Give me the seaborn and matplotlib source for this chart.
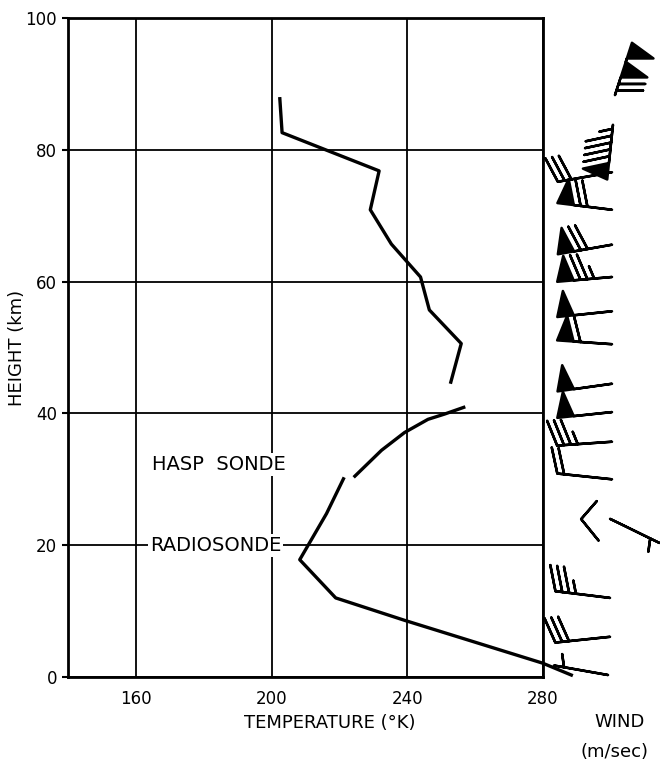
import numpy as np
import pandas as pd
import matplotlib
matplotlib.use("Agg")
import matplotlib.pyplot as plt
import seaborn as sns

# ---------------- Temperature profiles (deg K vs km) ----------------
upper_height = [88.0, 82.6, 76.8, 70.9, 65.7, 60.7, 55.7, 50.6, 44.5]
upper_temp = [202.4, 203.1, 231.7, 229.1, 235.3, 243.9, 246.5, 255.9, 252.7]

hasp_height = [41.0, 39.9, 39.1, 37.1, 34.4, 30.3]
hasp_temp = [257.1, 251.0, 246.1, 239.2, 232.4, 224.2]

radio_height = [30.3, 24.8, 17.8, 12.0, 8.6, 2.1, 0.2]
radio_temp = [221.4, 216.2, 208.3, 218.9, 239.2, 279.9, 288.8]

# ---------------- Winds ----------------
# direction = where the wind comes from (deg clockwise from north), speed in m/sec
wind_height = [88.3, 83.8, 76.6, 70.9, 65.6, 60.7, 55.5, 50.5, 44.5,
               40.2, 35.7, 30.0, 24.0, 20.8, 12.0, 6.1, 0.3]
wind_dir = [18, 186, 260, 277, 260, 265, 264, 274, 262,
            264, 266, 276, 116, 321, 277, 264, 280]
wind_speed = [120, 95, 30, 70, 70, 75, 50, 60, 50,
              50, 35, 20, 5, 10, 35, 30, 5]
# horizontal place of each barb inside the wind column (0..1)
wind_col = [0.615, 0.598, 0.59, 0.59, 0.59, 0.59, 0.59, 0.59, 0.59,
            0.59, 0.59, 0.59, 0.573, 0.47, 0.573, 0.573, 0.556]
# barbs drawn with a short shaft in the original
short_shaft = [13]

temp_ticks = [160, 200, 240, 280]
height_ticks = [0, 20, 40, 60, 80, 100]

# ---------------- Build tables ----------------
df = pd.concat([
    pd.DataFrame({"temp": upper_temp, "height": upper_height, "seg": "upper"}),
    pd.DataFrame({"temp": hasp_temp, "height": hasp_height, "seg": "hasp"}),
    pd.DataFrame({"temp": radio_temp, "height": radio_height, "seg": "radio"}),
], ignore_index=True)

wind = pd.DataFrame({"x": wind_col, "height": wind_height,
                     "dir": wind_dir, "speed": wind_speed})
rad = np.deg2rad(wind["dir"])
wind["u"] = -wind["speed"] * np.sin(rad)
wind["v"] = -wind["speed"] * np.cos(rad)
wind["short"] = wind.index.isin(short_shaft)

# ---------------- Plot ----------------
sns.set_theme(style="white")
plt.rcParams["font.family"] = ["DejaVu Sans"]
plt.rcParams["text.color"] = "black"
plt.rcParams["axes.labelcolor"] = "black"

fig = plt.figure(figsize=(6.6, 7.64), dpi=100)
ax = fig.add_axes([68 / 660, 1 - 677 / 764, 475 / 660, 659 / 764])

sns.lineplot(data=df, x="temp", y="height", units="seg", estimator=None,
             sort=False, color="black", lw=2.4, ax=ax, zorder=3)
for ln in ax.lines:
    ln.set_clip_on(False)
    ln.set_solid_capstyle("butt")

ax.set_xlim(140, 280)
ax.set_ylim(0, 100)
ax.set_xticks(temp_ticks)
ax.set_yticks(height_ticks)
ax.grid(True, color="black", lw=1.3)
ax.set_axisbelow(True)
for s in ax.spines.values():
    s.set_color("black")
    s.set_linewidth(2.0)

ax.tick_params(axis="x", length=0, pad=9, labelsize=12, colors="black")
ax.tick_params(axis="y", length=4, width=1.5, direction="out", pad=4,
               labelsize=12, colors="black", left=True)

ax.set_xlabel("TEMPERATURE (°K)", fontsize=13)
ax.set_ylabel("HEIGHT (km)", fontsize=13)
ax.xaxis.set_label_coords(0.55, -0.056)
ax.yaxis.set_label_coords(-0.088, 0.5)

box = dict(facecolor="white", edgecolor="none", pad=1.5)
ax.text(184.4, 32.2, "HASP  SONDE", fontsize=14, ha="center", va="center",
        bbox=box, zorder=4)
ax.text(183.5, 19.9, "RADIOSONDE", fontsize=14, ha="center", va="center",
        bbox=box, zorder=4)

# wind column to the right
axw = fig.add_axes([543 / 660, 1 - 677 / 764, 117 / 660, 659 / 764], sharey=ax)
axw.set_xlim(0, 1)
axw.axis("off")
reg = wind[~wind["short"]]
axw.barbs(reg["x"], reg["height"], reg["u"], reg["v"], length=8.9, pivot="tip",
          sizes=dict(height=0.46, width=0.3), color="black", linewidth=1.8,
          clip_on=False)
sh = wind[wind["short"]]
axw.barbs(sh["x"], sh["height"], sh["u"], sh["v"], length=6.3, pivot="tip",
          sizes=dict(height=0.85, width=0.3), color="black", linewidth=1.8,
          clip_on=False)

fig.text(620 / 660, 1 - 722 / 764, "WIND", fontsize=13, ha="center", va="center")
fig.text(614 / 660, 1 - 752 / 764, "(m/sec)", fontsize=13, ha="center", va="center")

fig.savefig("out.png", dpi=100, facecolor="white")
